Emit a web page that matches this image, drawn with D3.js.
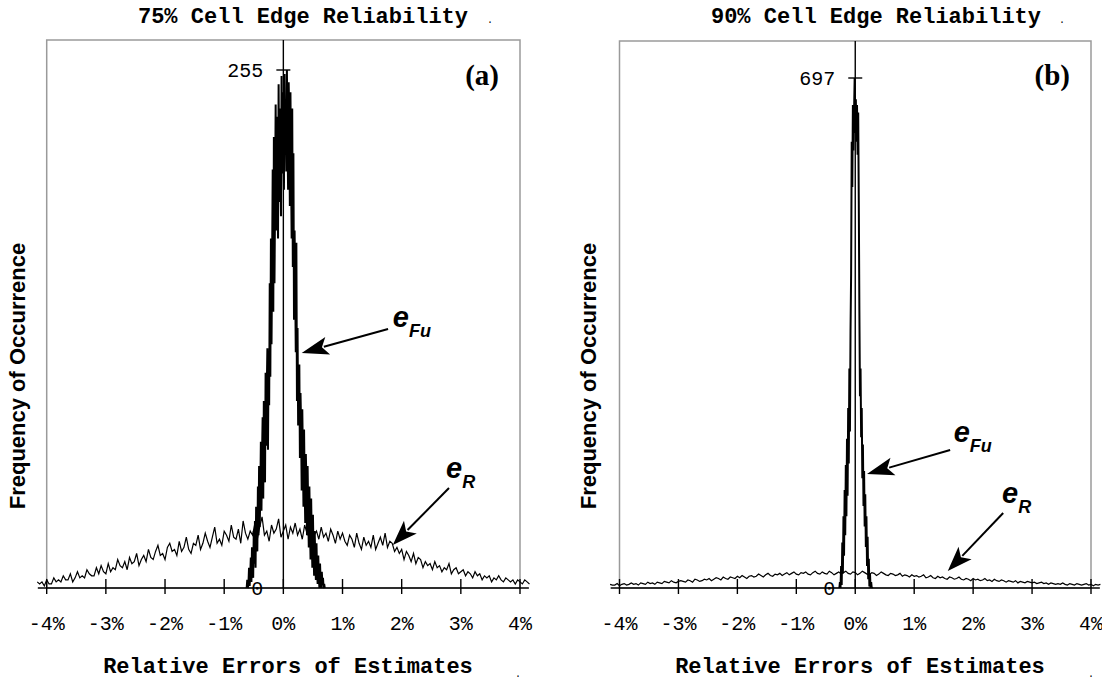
<!DOCTYPE html>
<html>
<head>
<meta charset="utf-8">
<script src="https://cdn.jsdelivr.net/npm/d3@7"></script>
<style>
  body { margin: 0; background: #fff; }
  .mono { font-family: "Liberation Mono", "Courier New", monospace; }
  .sans { font-family: "Liberation Sans", Arial, sans-serif; }
</style>
</head>
<body>
<div id="content"></div>
<script>
// ---- data ----
const xTickValues = [-4, -3, -2, -1, 0, 1, 2, 3, 4]
const titles = ["75% Cell Edge Reliability", "90% Cell Edge Reliability"]
const tags = ["(a)", "(b)"]
const yPeaks = [255, 697]

// e_R histograms, bins of 0.04% starting at -4.16%
const rStart = -4.16, rStep = 0.04
const eR_a = [
  3,2,3,1,4,2,2,5,3,4, 3,6,4,4,7,3,5,8,5,6, 5,9,7,6,6,10,7,11,8,7,
  12,8,10,9,14,11,10,13,9,15, 12,13,17,11,14,16,13,19,15,14, 18,21,16,17,14,20,22,18,19,16,
  23,18,20,25,19,17,22,21,26,19, 22,27,23,20,25,30,22,24,21,28, 26,23,31,25,24,29,22,33,27,24,
  28,26,32,24,30,35,26,28,23,31, 27,29,34,25,28,31,24,30,27,32, 26,29,24,31,27,25,33,26,28,24,
  30,25,27,23,29,26,22,28,24,27, 23,21,26,24,20,27,22,19,25,21, 23,20,26,19,22,25,21,27,20,23,
  22,18,20,17,19,14,18,16,13,17, 12,15,14,10,13,11,12,9,13,10, 11,8,10,9,12,7,9,10,7,8,
  9,6,8,7,5,8,6,7,4,6, 5,6,3,5,4,6,4,3,5,4, 3,4,2,4,3,2,4,3,2
]
const eR_b = [
  5,4,4,6,3,5,6,4,5,7, 5,6,4,7,6,5,8,6,7,5, 8,7,6,9,8,7,10,8,7,9,
  10,9,8,11,10,8,12,11,9,10, 12,11,13,10,12,14,13,11,15,13, 12,15,14,13,16,14,17,15,13,16,
  17,15,16,19,17,15,18,20,17,16, 19,18,20,17,19,21,18,20,22,19, 18,21,20,22,19,18,21,23,20,19,
  22,20,19,23,21,18,20,22,19,21, 23,20,19,22,21,18,20,23,21,19, 18,21,20,17,19,22,20,18,17,20,
  19,17,18,20,16,18,17,15,18,16, 17,15,16,18,14,15,17,14,13,16, 14,15,13,12,15,14,12,13,15,12,
  11,13,12,10,13,11,12,10,11,13, 10,11,9,12,10,9,11,10,8,10, 9,8,10,7,9,8,7,9,8,7,
  8,6,7,8,6,7,5,7,6,5, 6,5,7,5,4,6,5,4,6,5, 4,5,6,4,5,3,5,4,5
]

// e_Fu histograms, bins of 0.01%
const fuStep = 0.01
const fuStart_a = -0.62
const eFu_a = [
  0,4,0,2,10,1,6,15,3,20, 8,5,28,12,33,10,40,22,18,50,
  26,60,30,45,72,38,66,84,44,92, 60,52,106,70,98,118,68,112,90,150,
  104,172,120,160,206,136,222,150,190,238, 176,232,198,172,248,190,236,212,183,252,
  204,244,226,196,253,214,236,205,255,222, 196,249,232,188,244,206,172,236,158,214,
  132,176,150,116,170,92,128,80,104,110, 64,96,80,48,88,66,40,78,50,32,
  66,52,26,60,38,20,50,30,14,44, 24,10,36,18,6,28,12,4,22,8,
  2,16,5,0,12,3,0,8,2,5, 0,2,0
]
const fuStart_b = -0.27
const eFu_b = [
  0,8,0,30,4,62,20,98,44,134, 72,168,98,204,126,246,170,300,214,352,
  430,610,548,660,598,652,697,622,668,610, 660,592,650,530,380,262,300,206,246,150,
  196,112,160,84,128,56,98,30,70,12, 40,2,20,0,8,0,2
]

// annotation anchors in data units [x%, count]
const notes = [
  {fu: {text: [1.85, 128.5], from: [1.77, 127.5], to: [0.31, 115.7]},
   r:  {text: [2.75, 54.2],  from: [2.80, 49.2],  to: [1.85, 21.2]}},
  {fu: {text: [1.67, 199.5], from: [1.61, 188.6], to: [0.20, 155.8]},
   r:  {text: [2.49, 116.2], from: [2.51, 102.5], to: [1.57, 23.2]}}
]

const series = [
  {eR: eR_a, eFu: eFu_a, fuStart: fuStart_a},
  {eR: eR_b, eFu: eFu_b, fuStart: fuStart_b}
]

// ---- layout ----
const W = 1102, H = 682
const layout = [
  {left: 46.7, right: 520, top: 40, bottom: 588, peakY: 70, ylab: 25, titleX: 303, dotX: 487, xtitleX: 288, xdotX: 515},
  {left: 619.5, right: 1091, top: 41, bottom: 588, peakY: 78, ylab: 596, titleX: 876, dotX: 1059, xtitleX: 860, xdotX: 1088}
]

const svg = d3.select("#content").append("svg")
    .attr("width", W)
    .attr("height", H)

layout.forEach((L, p) => {
  const g = svg.append("g")
  const s = series[p]

  const x = d3.scaleLinear().domain([-4, 4]).range([L.left, L.right])
  const y = d3.scaleLinear().domain([0, yPeaks[p]]).range([L.bottom, L.peakY])

  // plot box
  g.append("rect")
      .attr("x", L.left).attr("y", L.top)
      .attr("width", L.right - L.left).attr("height", L.bottom - L.top)
      .attr("fill", "none").attr("stroke", "#9a9a9a").attr("stroke-width", 1.5)

  // axes
  g.append("line")
      .attr("x1", x(-4.15)).attr("x2", x(4.15))
      .attr("y1", y(0)).attr("y2", y(0))
      .attr("stroke", "#000").attr("stroke-width", 1.6)
  g.selectAll(".xt").data(xTickValues).join("line")
      .attr("x1", d => x(d)).attr("x2", d => x(d))
      .attr("y1", y(0) - 9).attr("y2", y(0) + 6)
      .attr("stroke", "#000").attr("stroke-width", 1.4)
  g.selectAll(".xl").data(xTickValues).join("text")
      .attr("class", "mono")
      .attr("x", d => x(d)).attr("y", 630)
      .attr("text-anchor", "middle")
      .attr("font-size", 20)
      .text(d => d + "%")

  g.append("line")
      .attr("x1", x(0)).attr("x2", x(0))
      .attr("y1", L.top).attr("y2", y(0))
      .attr("stroke", "#000").attr("stroke-width", 1.4)
  g.append("line")
      .attr("x1", x(0) - 7).attr("x2", x(0) + 7)
      .attr("y1", y(yPeaks[p])).attr("y2", y(yPeaks[p]))
      .attr("stroke", "#000").attr("stroke-width", 1.4)
  g.selectAll(".yl").data([0, yPeaks[p]]).join("text")
      .attr("class", "mono")
      .attr("x", x(0) - 20).attr("y", d => y(d) + 7)
      .attr("text-anchor", "end")
      .attr("font-size", 20)
      .text(d => d)

  // data lines
  const line = d3.line().x(d => x(d[0])).y(d => y(d[1]))
  g.append("path")
      .datum(s.eR.map((v, i) => [rStart + i * rStep, v]))
      .attr("d", line)
      .attr("fill", "none").attr("stroke", "#000").attr("stroke-width", 1.2)
  g.append("path")
      .datum(s.eFu.map((v, i) => [s.fuStart + i * fuStep, v]))
      .attr("d", line)
      .attr("fill", "none").attr("stroke", "#000").attr("stroke-width", 2)

  // titles
  g.append("text").attr("class", "mono")
      .attr("x", L.titleX).attr("y", 23)
      .attr("text-anchor", "middle").attr("font-size", 22).attr("font-weight", "bold")
      .text(titles[p])
  g.append("text").attr("class", "mono")
      .attr("x", L.dotX).attr("y", 23).attr("font-size", 10).text(".")
  g.append("text").attr("class", "mono")
      .attr("x", L.xtitleX).attr("y", 673)
      .attr("text-anchor", "middle").attr("font-size", 22).attr("font-weight", "bold")
      .text("Relative Errors of Estimates")
  g.append("text").attr("class", "mono")
      .attr("x", L.xdotX).attr("y", 677).attr("font-size", 10).text(".")
  g.append("text").attr("class", "sans")
      .attr("transform", `translate(${L.ylab},376) rotate(-90)`)
      .attr("text-anchor", "middle").attr("font-size", 22).attr("font-weight", "bold")
      .text("Frequency of Occurrence")
  g.append("text")
      .attr("x", L.right - 21).attr("y", 85)
      .attr("text-anchor", "end")
      .attr("font-family", "'Liberation Serif', 'Times New Roman', serif")
      .attr("font-size", 29).attr("font-weight", "bold")
      .text(tags[p])

  // arrows + labels
  const n = notes[p]
  const arrow = (a, len, hw) => {
    const x1 = x(a.from[0]), y1 = y(a.from[1]), x2 = x(a.to[0]), y2 = y(a.to[1])
    const ang = Math.atan2(y2 - y1, x2 - x1)
    const ux = Math.cos(ang), uy = Math.sin(ang)
    g.append("line")
        .attr("x1", x1).attr("y1", y1)
        .attr("x2", x2 - ux * (len - 4)).attr("y2", y2 - uy * (len - 4))
        .attr("stroke", "#000").attr("stroke-width", 2)
    const bx = x2 - ux * len, by = y2 - uy * len
    const nx = x2 - ux * (len - 6), ny = y2 - uy * (len - 6)
    g.append("path")
        .attr("d", `M${x2},${y2} L${bx - uy * hw},${by + ux * hw} L${nx},${ny} L${bx + uy * hw},${by - ux * hw} Z`)
        .attr("fill", "#000")
  }
  arrow(n.fu, 27, 9)
  arrow(n.r, 25, 9)

  const label = (pos, sub) => {
    const t = g.append("text").attr("class", "sans")
        .attr("x", x(pos[0])).attr("y", y(pos[1]))
        .attr("font-weight", "bold").attr("font-style", "italic")
    t.append("tspan").attr("font-size", 29).text("e")
    t.append("tspan").attr("font-size", 18).attr("dy", 10).text(sub)
  }
  label(n.fu.text, "Fu")
  label(n.r.text, "R")
})
</script>
</body>
</html>
